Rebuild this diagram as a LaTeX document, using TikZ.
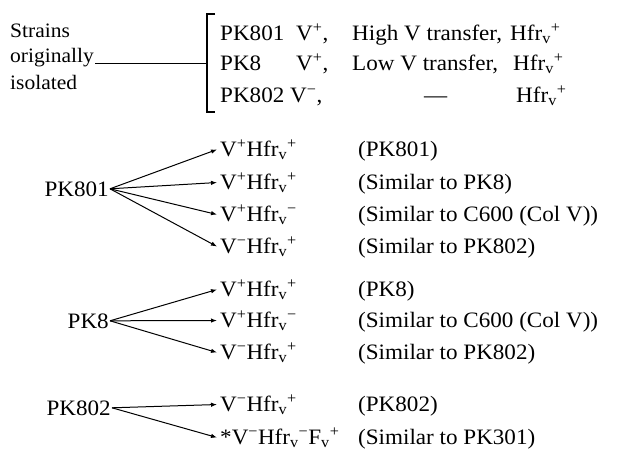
\documentclass[tikz,border=0pt]{standalone}
\usepackage{fontspec}
\setmainfont{Liberation Serif}[FakeStretch=1.05]
\usetikzlibrary{arrows.meta}
\newcommand{\Vp}{V\textsuperscript{+}}
\newcommand{\Vm}{V\textsuperscript{−}}
\newcommand{\Hfrp}{Hfr\textsubscript{v}\textsuperscript{+}}
\newcommand{\Hfrm}{Hfr\textsubscript{v}\textsuperscript{−}}

\begin{document}
\begin{tikzpicture}[x=1pt, y=-1pt, font=\fontsize{22}{26}\selectfont,
        txt/.style={inner sep=0pt, anchor=base west},
        lefttxt/.style={txt, font=\fontsize{20.5}{24}\selectfont},
        parent/.style={inner xsep=1pt, inner ysep=0pt, anchor=base east},
        child/.style={inner xsep=3pt, inner ysep=0pt, anchor=base west},
        fan/.style={line width=1pt, -{Latex[length=6pt, width=4.5pt]}}]
        \useasboundingbox (0,0) rectangle (620,467);

        % Top block: strains originally isolated
        \node[lefttxt] (strains) at (10,37) {Strains};
        \node[lefttxt] (orig) at (10,62) {originally};
        \node[lefttxt] (isol) at (10,89) {isolated};

        % Bracket
        \coordinate (brktop) at (207,14);
        \coordinate (brkbot) at (207,112);
        \coordinate (brkmid) at (207,63);
        \draw[line width=1.2pt] ([xshift=8pt]brktop) -- (brktop) -- (brkbot) -- ([xshift=8pt]brkbot);
        \draw[line width=1pt] ([xshift=1pt, yshift=-1pt]orig.base east) -- (brkmid);

        % Rows inside the bracket
        \node[txt] (iso1) at (220,40) {PK801};
        \node[txt] (iso1v) at (296,40) {\Vp,};
        \node[txt] (iso1t) at (352,40) {High V transfer,};
        \node[txt] (iso1h) at (510,40) {\Hfrp};

        \node[txt] (iso2) at (220,70) {PK8};
        \node[txt] (iso2v) at (296,70) {\Vp,};
        \node[txt] (iso2t) at (352,70) {Low V transfer,};
        \node[txt] (iso2h) at (513,70) {\Hfrp};

        \node[txt] (iso3) at (220,102) {PK802};
        \node[txt] (iso3v) at (290,102) {\Vm,};
        \node[txt] (iso3t) at (424,102) {—};
        \node[txt] (iso3h) at (516,102) {\Hfrp};

        % PK801 and its derivatives
        \node[parent] (pkA) at (110,196) {PK801};
        \node[child] (a1) at (217,156) {\Vp\Hfrp};
        \node[child] (a2) at (217,189) {\Vp\Hfrp};
        \node[child] (a3) at (217,221) {\Vp\Hfrm};
        \node[child] (a4) at (217,253) {\Vm\Hfrp};
        \node[txt] (na1) at (358,156) {(PK801)};
        \node[txt] (na2) at (358,189) {(Similar to PK8)};
        \node[txt] (na3) at (358,221) {(Similar to C600 (Col V))};
        \node[txt] (na4) at (358,253) {(Similar to PK802)};
        \draw[fan] (pkA.east) -- (a1.west);
        \draw[fan] (pkA.east) -- (a2.west);
        \draw[fan] (pkA.east) -- (a3.west);
        \draw[fan] (pkA.east) -- (a4.west);

        % PK8 and its derivatives
        \node[parent] (pkB) at (110,328) {PK8};
        \node[child] (b1) at (217,296) {\Vp\Hfrp};
        \node[child] (b2) at (217,327) {\Vp\Hfrm};
        \node[child] (b3) at (217,359) {\Vm\Hfrp};
        \node[txt] (nb1) at (358,296) {(PK8)};
        \node[txt] (nb2) at (358,327) {(Similar to C600 (Col V))};
        \node[txt] (nb3) at (358,359) {(Similar to PK802)};
        \draw[fan] (pkB.east) -- (b1.west);
        \draw[fan] (pkB.east) -- (b2.west);
        \draw[fan] (pkB.east) -- (b3.west);

        % PK802 and its derivatives
        \node[parent] (pkC) at (112,415) {PK802};
        \node[child] (c1) at (217,411) {\Vm\Hfrp};
        \node[child] (c2) at (217,444) {*\Vm\Hfrm F\textsubscript{v}\textsuperscript{+}};
        \node[txt] (nc1) at (358,411) {(PK802)};
        \node[txt] (nc2) at (358,444) {(Similar to PK301)};
        \draw[fan] (pkC.east) -- (c1.west);
        \draw[fan] (pkC.east) -- (c2.west);
    \end{tikzpicture}
\end{document}
